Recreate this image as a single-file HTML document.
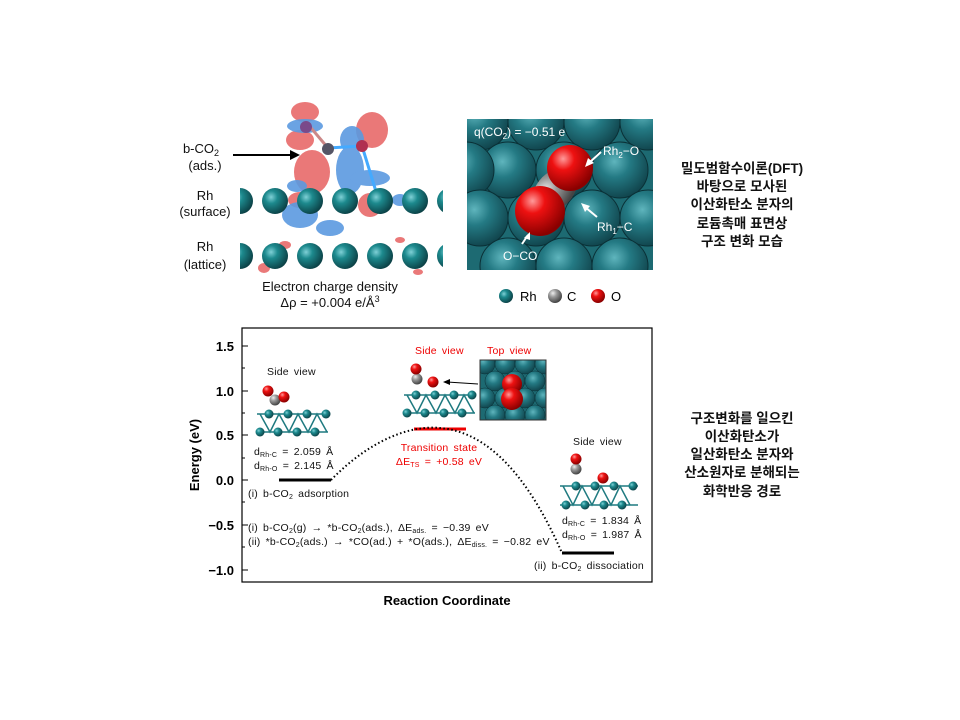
<!DOCTYPE html>
<html><head><meta charset="utf-8"><style>
body{margin:0;background:#fff;}
svg{display:block;font-family:"Liberation Sans","Noto Sans CJK KR",sans-serif;}
</style></head><body>
<svg width="960" height="720" viewBox="0 0 960 720" xmlns="http://www.w3.org/2000/svg">
<defs>
<radialGradient id="rh" cx="0.35" cy="0.35" r="0.7"><stop offset="0" stop-color="#7fd0d6"/><stop offset="0.35" stop-color="#1d8a8e"/><stop offset="1" stop-color="#0b3f44"/></radialGradient>
<radialGradient id="rhb" cx="0.4" cy="0.35" r="0.7"><stop offset="0" stop-color="#5fb5bd"/><stop offset="0.4" stop-color="#247a84"/><stop offset="1" stop-color="#0f4048"/></radialGradient>
<radialGradient id="ox" cx="0.35" cy="0.3" r="0.7"><stop offset="0" stop-color="#ff9a9a"/><stop offset="0.35" stop-color="#ee1111"/><stop offset="1" stop-color="#8a0000"/></radialGradient>
<radialGradient id="cc" cx="0.35" cy="0.3" r="0.7"><stop offset="0" stop-color="#eee"/><stop offset="0.4" stop-color="#999"/><stop offset="1" stop-color="#444"/></radialGradient>
<clipPath id="c1"><rect x="240" y="95" width="203" height="185"/></clipPath>
<clipPath id="c2"><rect x="467" y="119" width="186" height="151"/></clipPath>
<clipPath id="c3"><rect x="480" y="360" width="66" height="60"/></clipPath>
</defs>

<g clip-path="url(#c1)">
<g fill="#e86a6a" opacity="0.9">
<ellipse cx="305" cy="112" rx="14" ry="10"/>
<ellipse cx="300" cy="140" rx="14" ry="10"/>
<ellipse cx="312" cy="172" rx="18" ry="22"/>
<ellipse cx="372" cy="130" rx="16" ry="18"/>
<ellipse cx="300" cy="200" rx="12" ry="8"/>
<ellipse cx="370" cy="205" rx="12" ry="12"/>
<ellipse cx="285" cy="245" rx="6" ry="4"/>
<ellipse cx="400" cy="240" rx="5" ry="3"/>
<ellipse cx="264" cy="268" rx="6" ry="5"/>
<ellipse cx="418" cy="272" rx="5" ry="3"/>
</g>
<g fill="#5b9ae0" opacity="0.9">
<ellipse cx="305" cy="126" rx="18" ry="7"/>
<ellipse cx="352" cy="140" rx="12" ry="14"/>
<ellipse cx="350" cy="170" rx="14" ry="24"/>
<ellipse cx="370" cy="178" rx="20" ry="8"/>
<ellipse cx="300" cy="215" rx="18" ry="13"/>
<ellipse cx="330" cy="228" rx="14" ry="8"/>
<ellipse cx="297" cy="186" rx="10" ry="6"/>
<ellipse cx="400" cy="200" rx="8" ry="6"/>
</g>
<line x1="306" y1="122" x2="328" y2="148" stroke="#c88" stroke-width="3"/>
<line x1="328" y1="148" x2="362" y2="146" stroke="#4af" stroke-width="3"/>
<line x1="362" y1="146" x2="378" y2="198" stroke="#4af" stroke-width="3"/>
<circle cx="306" cy="127" r="6" fill="#7a4a8a"/>
<circle cx="328" cy="149" r="6" fill="#556"/>
<circle cx="362" cy="146" r="6" fill="#b03050"/>
<g fill="url(#rh)">
<circle cx="240" cy="201" r="13"/><circle cx="275" cy="201" r="13"/><circle cx="310" cy="201" r="13"/><circle cx="345" cy="201" r="13"/><circle cx="380" cy="201" r="13"/><circle cx="415" cy="201" r="13"/><circle cx="450" cy="201" r="13"/>
<circle cx="240" cy="256" r="13"/><circle cx="275" cy="256" r="13"/><circle cx="310" cy="256" r="13"/><circle cx="345" cy="256" r="13"/><circle cx="380" cy="256" r="13"/><circle cx="415" cy="256" r="13"/><circle cx="450" cy="256" r="13"/>
</g>
</g>
<g font-size="13" fill="#111" text-anchor="middle">
<text x="201" y="153">b-CO<tspan font-size="9" dy="3">2</tspan></text>
<text x="205" y="170">(ads.)</text>
<text x="205" y="200">Rh</text>
<text x="205" y="216">(surface)</text>
<text x="205" y="251">Rh</text>
<text x="205" y="269">(lattice)</text>
<text x="330" y="291">Electron charge density</text>
<text x="330" y="307">Δρ = +0.004 e/Å<tspan font-size="9" dy="-5">3</tspan></text>
</g>
<line x1="233" y1="155" x2="292" y2="155" stroke="#000" stroke-width="2"/>
<polygon points="300,155 290,150 290,160" fill="#000"/>

<g clip-path="url(#c2)">
<rect x="467" y="119" width="186" height="151" fill="#1d6a72"/>
<g fill="url(#rhb)" stroke="#0a3036" stroke-width="1">
<circle cx="480" cy="122" r="28"/><circle cx="536" cy="122" r="28"/><circle cx="592" cy="122" r="28"/><circle cx="648" cy="122" r="28"/>
<circle cx="508" cy="170" r="28"/><circle cx="564" cy="170" r="28"/><circle cx="620" cy="170" r="28"/><circle cx="466" cy="170" r="28"/>
<circle cx="480" cy="218" r="28"/><circle cx="536" cy="218" r="28"/><circle cx="592" cy="218" r="28"/><circle cx="648" cy="218" r="28"/>
<circle cx="508" cy="266" r="28"/><circle cx="564" cy="266" r="28"/><circle cx="620" cy="266" r="28"/>
</g>
<ellipse cx="555" cy="190" rx="26" ry="18" transform="rotate(-45 555 190)" fill="url(#cc)"/>
<circle cx="570" cy="168" r="23" fill="url(#ox)"/>
<circle cx="540" cy="211" r="25" fill="url(#ox)"/>
</g>
<g fill="#fff" font-size="12">
<text x="474" y="136">q(CO<tspan font-size="8" dy="3">2</tspan><tspan dy="-3">) = −0.51 e</tspan></text>
<text x="603" y="155">Rh<tspan font-size="8" dy="3">2</tspan><tspan dy="-3">−O</tspan></text>
<text x="597" y="231">Rh<tspan font-size="8" dy="3">1</tspan><tspan dy="-3">−C</tspan></text>
<text x="503" y="260">O−CO</text>
</g>
<g stroke="#fff" stroke-width="2"><line x1="601" y1="152" x2="589" y2="163"/><line x1="597" y1="217" x2="585" y2="207"/><line x1="522" y1="244" x2="528" y2="235"/></g>
<g fill="#fff"><polygon points="585,167 588,158 594,163"/><polygon points="581,203 590,206 585,212"/><polygon points="530,232 530,240 524,238"/></g>

<circle cx="506" cy="296" r="7" fill="url(#rh)"/><text x="520" y="301" font-size="13">Rh</text>
<circle cx="555" cy="296" r="7" fill="url(#cc)"/><text x="567" y="301" font-size="13">C</text>
<circle cx="598" cy="296" r="7" fill="url(#ox)"/><text x="611" y="301" font-size="13">O</text>

<g font-size="13.5" font-weight="bold" text-anchor="middle" fill="#111">
<text x="742" y="173">밀도범함수이론(DFT)</text>
<text x="742" y="191">바탕으로 모사된</text>
<text x="742" y="209">이산화탄소 분자의</text>
<text x="742" y="228">로듐촉매 표면상</text>
<text x="742" y="246">구조 변화 모습</text>
<text x="742" y="423">구조변화를 일으킨</text>
<text x="742" y="441">이산화탄소가</text>
<text x="742" y="459">일산화탄소 분자와</text>
<text x="742" y="477">산소원자로 분해되는</text>
<text x="742" y="496">화학반응 경로</text>
</g>

<rect x="242" y="328" width="410" height="254" fill="none" stroke="#000" stroke-width="1.2"/>
<g stroke="#000" stroke-width="1">
<line x1="242" y1="346" x2="248" y2="346"/><line x1="242" y1="368" x2="245" y2="368"/>
<line x1="242" y1="391" x2="248" y2="391"/><line x1="242" y1="413" x2="245" y2="413"/>
<line x1="242" y1="435" x2="248" y2="435"/><line x1="242" y1="458" x2="245" y2="458"/>
<line x1="242" y1="480" x2="248" y2="480"/><line x1="242" y1="502" x2="245" y2="502"/>
<line x1="242" y1="525" x2="248" y2="525"/><line x1="242" y1="547" x2="245" y2="547"/>
<line x1="242" y1="570" x2="248" y2="570"/>
</g>
<g font-size="13" font-weight="bold" text-anchor="end">
<text x="234" y="351">1.5</text><text x="234" y="396">1.0</text><text x="234" y="440">0.5</text>
<text x="234" y="485">0.0</text><text x="234" y="530">−0.5</text><text x="234" y="575">−1.0</text>
</g>
<text transform="translate(199 455) rotate(-90)" font-size="13" font-weight="bold" text-anchor="middle">Energy (eV)</text>
<text x="447" y="605" font-size="13" font-weight="bold" text-anchor="middle">Reaction Coordinate</text>

<line x1="279" y1="480" x2="331" y2="480" stroke="#000" stroke-width="3"/>
<line x1="414" y1="429" x2="466" y2="429" stroke="#e00" stroke-width="3"/>
<line x1="562" y1="553" x2="614" y2="553" stroke="#000" stroke-width="3"/>
<path d="M331,480 C370,440 410,425 440,428 C490,432 530,480 562,553" fill="none" stroke="#000" stroke-width="2" stroke-dasharray="1.5,2.5"/>

<g font-size="10.5" fill="#111" word-spacing="2" letter-spacing="0.2">
<text x="267" y="375">Side view</text>
<text x="254" y="455">d<tspan font-size="7" dy="2">Rh-C</tspan><tspan dy="-2"> = 2.059 Å</tspan></text>
<text x="254" y="469">d<tspan font-size="7" dy="2">Rh-O</tspan><tspan dy="-2"> = 2.145 Å</tspan></text>
<text x="248" y="497">(i) b-CO<tspan font-size="7" dy="2">2</tspan><tspan dy="-2"> adsorption</tspan></text>
<text x="248" y="531">(i) b-CO<tspan font-size="7" dy="2">2</tspan><tspan dy="-2">(g) → *b-CO</tspan><tspan font-size="7" dy="2">2</tspan><tspan dy="-2">(ads.), ΔE</tspan><tspan font-size="7" dy="2">ads.</tspan><tspan dy="-2"> = −0.39 eV</tspan></text>
<text x="248" y="545">(ii) *b-CO<tspan font-size="7" dy="2">2</tspan><tspan dy="-2">(ads.) → *CO(ad.) + *O(ads.), ΔE</tspan><tspan font-size="7" dy="2">diss.</tspan><tspan dy="-2"> = −0.82 eV</tspan></text>
<text x="573" y="445">Side view</text>
<text x="562" y="524">d<tspan font-size="7" dy="2">Rh-C</tspan><tspan dy="-2"> = 1.834 Å</tspan></text>
<text x="562" y="538">d<tspan font-size="7" dy="2">Rh-O</tspan><tspan dy="-2"> = 1.987 Å</tspan></text>
<text x="534" y="569">(ii) b-CO<tspan font-size="7" dy="2">2</tspan><tspan dy="-2"> dissociation</tspan></text>
</g>
<g font-size="10.5" fill="#e00" word-spacing="2" letter-spacing="0.2">
<text x="415" y="354">Side view</text><text x="487" y="354">Top view</text>
<text x="439" y="451" text-anchor="middle">Transition state</text>
<text x="439" y="465" text-anchor="middle">ΔE<tspan font-size="7" dy="2">TS</tspan><tspan dy="-2"> = +0.58 eV</tspan></text>
</g>

<g stroke="#1f7a80" stroke-width="1.5" fill="none">
<path d="M257,414 L328,414 M257,432 L328,432 M260,414 L270,432 L279,414 L289,432 L298,414 L308,432 L317,414 L327,432"/>
</g>
<g fill="url(#rh)"><circle cx="269" cy="414" r="4.5"/><circle cx="288" cy="414" r="4.5"/><circle cx="307" cy="414" r="4.5"/><circle cx="326" cy="414" r="4.5"/><circle cx="278" cy="432" r="4.5"/><circle cx="297" cy="432" r="4.5"/><circle cx="315" cy="432" r="4.5"/><circle cx="260" cy="432" r="4.5"/></g>
<circle cx="275" cy="400" r="5.5" fill="url(#cc)"/><circle cx="268" cy="391" r="5.5" fill="url(#ox)"/><circle cx="284" cy="397" r="5.5" fill="url(#ox)"/>

<g stroke="#1f7a80" stroke-width="1.5" fill="none">
<path d="M404,395 L475,395 M404,413 L475,413 M407,395 L417,413 L426,395 L436,413 L445,395 L455,413 L464,395 L474,413"/>
</g>
<g fill="url(#rh)"><circle cx="416" cy="395" r="4.5"/><circle cx="435" cy="395" r="4.5"/><circle cx="454" cy="395" r="4.5"/><circle cx="472" cy="395" r="4.5"/><circle cx="425" cy="413" r="4.5"/><circle cx="444" cy="413" r="4.5"/><circle cx="462" cy="413" r="4.5"/><circle cx="407" cy="413" r="4.5"/></g>
<circle cx="417" cy="379" r="5.5" fill="url(#cc)"/><circle cx="416" cy="369" r="5.5" fill="url(#ox)"/><circle cx="433" cy="382" r="5.5" fill="url(#ox)"/>
<line x1="478" y1="384" x2="447" y2="382" stroke="#000" stroke-width="1"/><polygon points="443,382 450,379 450,385" fill="#000"/>
<g clip-path="url(#c3)">
<rect x="480" y="360" width="66" height="60" fill="#1d6a72"/>
<g fill="url(#rhb)" stroke="#0a3036" stroke-width="0.5"><circle cx="485" cy="364" r="10"/><circle cx="505" cy="364" r="10"/><circle cx="525" cy="364" r="10"/><circle cx="545" cy="364" r="10"/><circle cx="495" cy="381" r="10"/><circle cx="515" cy="381" r="10"/><circle cx="535" cy="381" r="10"/><circle cx="485" cy="398" r="10"/><circle cx="505" cy="398" r="10"/><circle cx="525" cy="398" r="10"/><circle cx="545" cy="398" r="10"/><circle cx="495" cy="415" r="10"/><circle cx="515" cy="415" r="10"/><circle cx="535" cy="415" r="10"/></g>
<circle cx="512" cy="384" r="10" fill="url(#ox)"/><circle cx="512" cy="399" r="11" fill="url(#ox)"/>
</g>
<rect x="480" y="360" width="66" height="60" fill="none" stroke="#333" stroke-width="1"/>

<g stroke="#1f7a80" stroke-width="1.5" fill="none">
<path d="M560,486 L638,486 M560,505 L638,505 M563,486 L573,505 L582,486 L592,505 L601,486 L611,505 L620,486 L630,505"/>
</g>
<g fill="url(#rh)"><circle cx="576" cy="486" r="4.5"/><circle cx="595" cy="486" r="4.5"/><circle cx="614" cy="486" r="4.5"/><circle cx="633" cy="486" r="4.5"/><circle cx="585" cy="505" r="4.5"/><circle cx="604" cy="505" r="4.5"/><circle cx="622" cy="505" r="4.5"/><circle cx="566" cy="505" r="4.5"/></g>
<circle cx="576" cy="469" r="5.5" fill="url(#cc)"/><circle cx="576" cy="459" r="5.5" fill="url(#ox)"/><circle cx="603" cy="478" r="5.5" fill="url(#ox)"/>
</svg>
</body></html>
